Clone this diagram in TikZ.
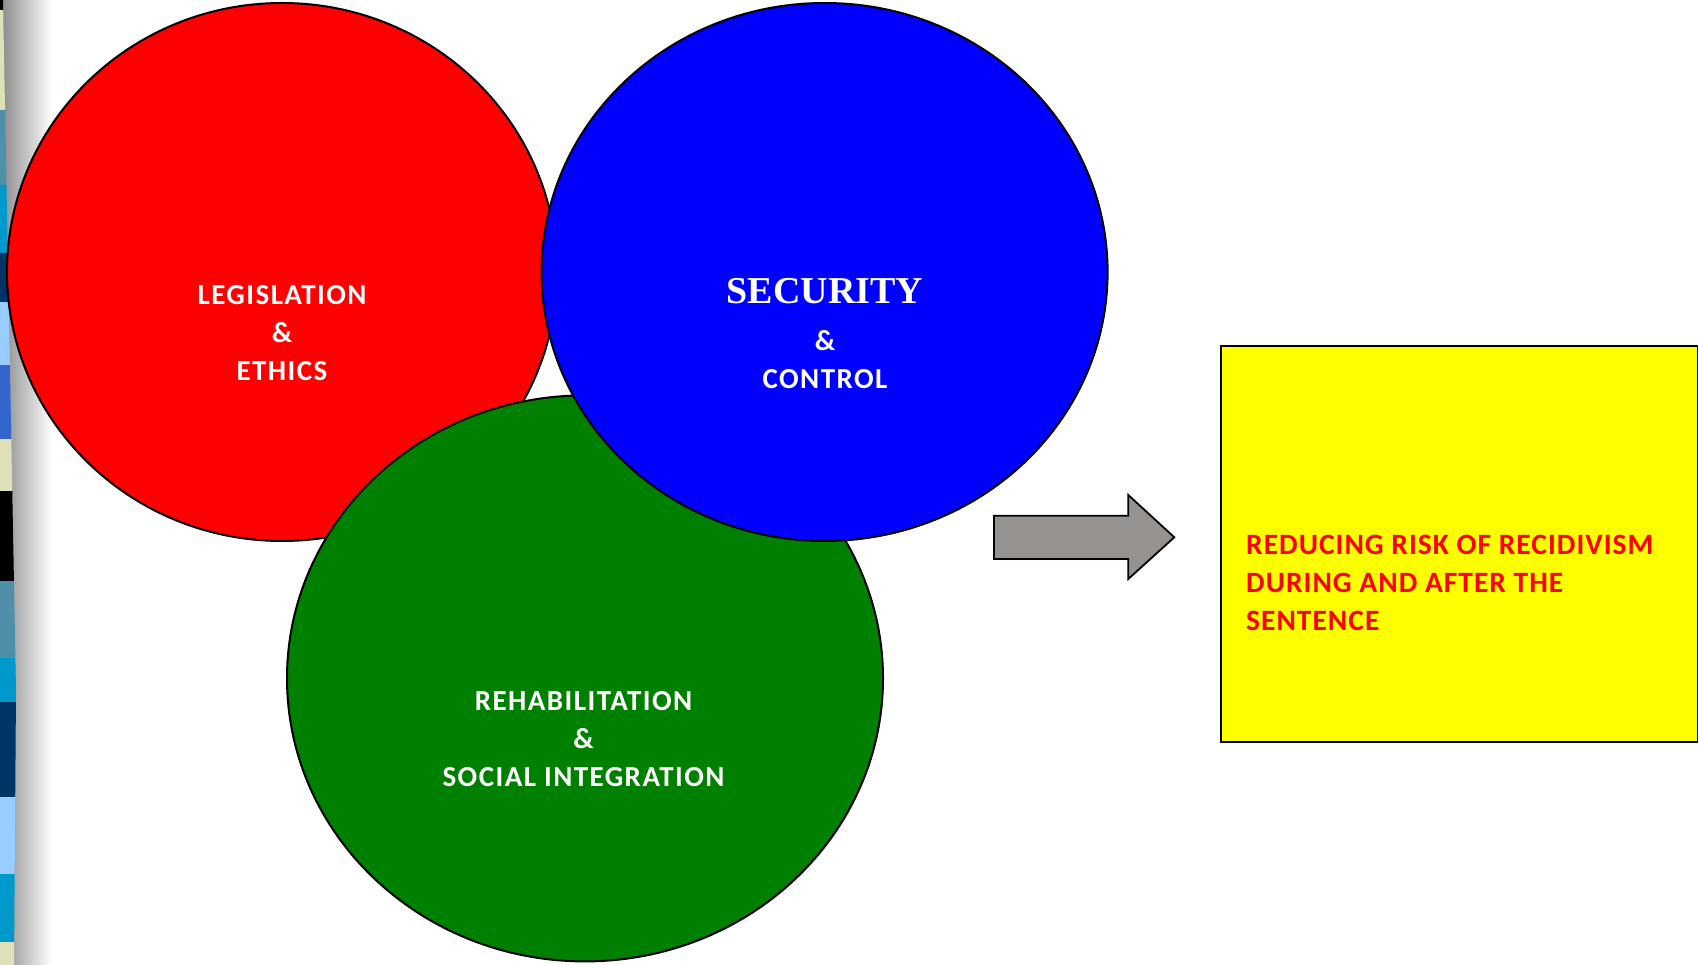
\documentclass[tikz,border=0pt]{standalone}
\usepackage{fontspec}
\setmainfont{Carlito}
\newfontfamily\titleserif{Liberation Serif}
\newfontfamily\vennfont{Carlito}[LetterSpace=5]
\newfontfamily\goalfont{Carlito}[LetterSpace=3.4]
\usetikzlibrary{shapes.geometric}

\definecolor{vred}{HTML}{FF0000}
\definecolor{vgreen}{HTML}{008000}
\definecolor{vblue}{HTML}{0000FF}
\definecolor{goalyellow}{HTML}{FFFF00}
\definecolor{arrowgray}{RGB}{150,146,144}
\definecolor{shadowgray}{RGB}{136,136,136}
\definecolor{sbeige}{HTML}{E0E0B8}
\definecolor{ssteel}{HTML}{4F8FA9}
\definecolor{scyan}{HTML}{0099CC}
\definecolor{snavy}{HTML}{003366}
\definecolor{slight}{HTML}{99CCFF}
\definecolor{sroyal}{HTML}{3366CC}

\begin{document}
\begin{tikzpicture}[x=1pt, y=-1pt,
  venn/.style={ellipse, draw=black, line width=2pt, inner sep=0pt},
  vennlabel/.style={text=white, font=\vennfont\fontsize{29}{38}\selectfont\bfseries,
    align=center, inner sep=0pt, anchor=north},
  goalbox/.style={draw=black, line width=2pt, fill=goalyellow, inner sep=0pt,
    anchor=north west},
  goaltext/.style={text=vred, font=\goalfont\fontsize{29.5}{38.2}\selectfont\bfseries,
    align=left, inner sep=0pt, anchor=north west},
  blockarrow/.style={draw=black, line width=1.8pt, fill=arrowgray, line join=miter}]

\useasboundingbox (0,0) rectangle (1698,965);

% page edge: soft shadow and the band of coloured squares
\shade[left color=shadowgray, right color=white] (0,0) rectangle (52,965);
\begin{scope}
  \clip (0,0) -- (3,0) -- (16,690) -- (14,965) -- (0,965) -- cycle;
  \foreach \c/\a/\b in {black/0/10, sbeige/10/110, ssteel/110/185, scyan/185/253,
      snavy/253/302, slight/302/365, sroyal/365/439, sbeige/439/491,
      black/491/581, ssteel/581/658, scyan/658/702, snavy/702/797,
      slight/797/874, scyan/874/942, sbeige/942/965}
    \fill[\c] (0,\a) rectangle (20,\b);
\end{scope}

% the three overlapping circles
\node[venn, fill=vred, minimum width=550pt, minimum height=538pt] (legis) at (282,272) {};
\node[venn, fill=vgreen, minimum width=596pt, minimum height=566pt] (rehab) at (585,678.4) {};
\node[venn, fill=vblue, minimum width=566pt, minimum height=538pt] (secur) at (824.6,272) {};

\node[vennlabel] (legisT) at (282,285) {LEGISLATION\\\&\\ETHICS};
\node[vennlabel] (securT) at (825,278.3)
  {{\titleserif\fontsize{38}{38}\selectfont SECURITY}\\[9pt]\&\\CONTROL};
\node[vennlabel] (rehabT) at (583.5,691.7) {REHABILITATION\\\&\\SOCIAL INTEGRATION};

% block arrow towards the outcome
\draw[blockarrow] (994,515.7) -- (1128.3,515.7) -- (1128.3,495) -- (1174.3,537.3)
  -- (1128.3,579) -- (1128.3,559) -- (994,559) -- cycle;

% outcome box
\node[goalbox, minimum width=477pt, minimum height=396pt] (goal) at (1220,345) {};
\node[goaltext] (goalT) at (1246,535)
  {REDUCING RISK OF RECIDIVISM\\DURING AND AFTER THE\\SENTENCE};

\end{tikzpicture}
\end{document}
